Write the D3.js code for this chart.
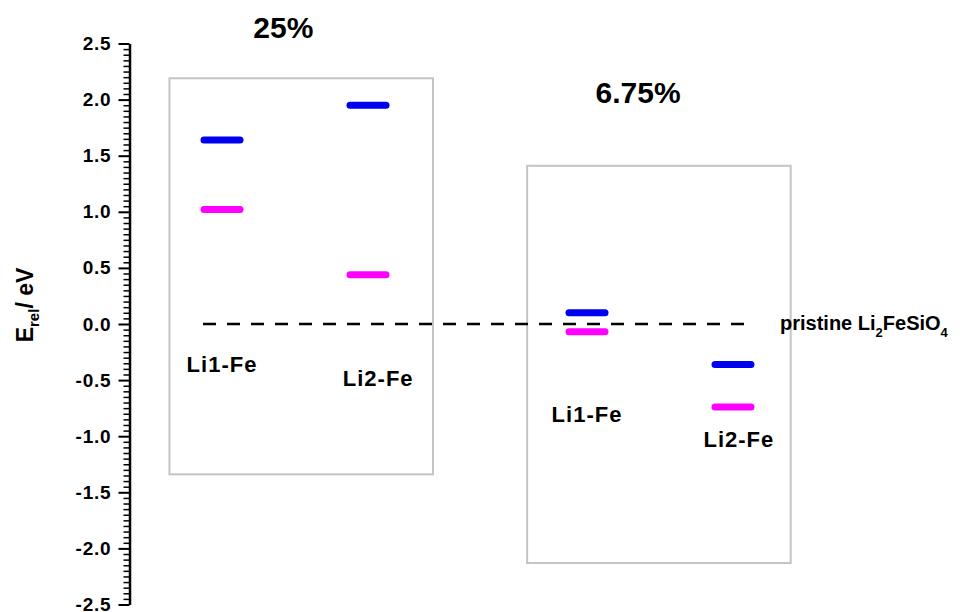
<!DOCTYPE html>
<html>
<head>
<meta charset="utf-8">
<script src="https://cdn.jsdelivr.net/npm/d3@7"></script>
<style>
  html, body { margin: 0; padding: 0; background: #fff; }
  svg { display: block; font-family: "Liberation Sans", Arial, sans-serif; }
</style>
</head>
<body>
<svg id="chart" width="960" height="612"></svg>
<script>
// Relative energies (eV) of Li-Fe antisite configurations at two concentrations
const groups = ["25%", "6.75%"];
const categories = ["Li1-Fe", "Li2-Fe", "Li1-Fe", "Li2-Fe"];
const categoryGroup = [0, 0, 1, 1];
const upperLevel = [1.64, 1.95, 0.10, -0.36];   // blue
const lowerLevel = [1.02, 0.44, -0.07, -0.74];  // magenta
const referenceLevel = 0.0;
const referenceLabel = ["pristine Li", "2", "FeSiO", "4"];
const yTicks = [-2.5, -2.0, -1.5, -1.0, -0.5, 0.0, 0.5, 1.0, 1.5, 2.0, 2.5];

// ---- layout ----
const svg = d3.select("#chart");
const slot = [1, 2, 3.5, 4.5];                 // horizontal slot of each category
const x = d3.scaleLinear().domain([0, 6]).range([76, 952]);
const y = d3.scaleLinear().domain([-2.5, 2.5]).range([604.5, 43.5]);
const axisX = 129.5;
const boxExtent = [                              // frame around each group (slot units / eV)
  { x0: 0.64, x1: 2.445, top: 2.19, bottom: -1.34 },
  { x0: 3.09, x1: 4.895, top: 1.41, bottom: -2.13 }
];
const titleAt = [{ s: 1.42, v: 2.545 }, { s: 3.85, v: 1.966 }];
const labelAt = [{ s: 1.0, v: -0.43 }, { s: 2.07, v: -0.555 }, { s: 3.5, v: -0.87 }, { s: 4.54, v: -1.095 }];
const barHalf = 18;

// group frames
svg.append("g").selectAll("rect").data(boxExtent).join("rect")
  .attr("x", d => x(d.x0)).attr("y", d => y(d.top))
  .attr("width", d => x(d.x1) - x(d.x0))
  .attr("height", d => y(d.bottom) - y(d.top))
  .attr("fill", "none").attr("stroke", "#c4c4c4").attr("stroke-width", 2);

// reference (pristine) level
svg.append("line")
  .attr("x1", x(slot[0]) - 19).attr("x2", x(slot[3]) + 21)
  .attr("y1", y(referenceLevel)).attr("y2", y(referenceLevel))
  .attr("stroke", "#000").attr("stroke-width", 2.5)
  .attr("stroke-dasharray", "13 11");

const refText = svg.append("text")
  .attr("x", 780).attr("y", y(referenceLevel) + 6)
  .attr("font-size", 20).attr("font-weight", "bold");
refText.append("tspan").text(referenceLabel[0]);
refText.append("tspan").attr("font-size", 13).attr("dy", 7).text(referenceLabel[1]);
refText.append("tspan").attr("dy", -7).text(referenceLabel[2]);
refText.append("tspan").attr("font-size", 13).attr("dy", 7).text(referenceLabel[3]);

// energy levels
function levels(values, color) {
  svg.append("g").selectAll("line").data(values).join("line")
    .attr("x1", (d, i) => x(slot[i]) - barHalf)
    .attr("x2", (d, i) => x(slot[i]) + barHalf)
    .attr("y1", d => y(d)).attr("y2", d => y(d))
    .attr("stroke", color).attr("stroke-width", 7)
    .attr("stroke-linecap", "round");
}
levels(upperLevel, "#0000f0");
levels(lowerLevel, "#ff00ff");

// category labels
svg.append("g").selectAll("text").data(categories).join("text")
  .attr("x", (d, i) => x(labelAt[i].s)).attr("y", (d, i) => y(labelAt[i].v))
  .attr("text-anchor", "middle").attr("font-size", 22).attr("font-weight", "bold")
  .attr("letter-spacing", 1)
  .text(d => d);

// group titles
svg.append("g").selectAll("text").data(groups).join("text")
  .attr("x", (d, i) => x(titleAt[i].s)).attr("y", (d, i) => y(titleAt[i].v))
  .attr("text-anchor", "middle").attr("font-size", 30).attr("font-weight", "bold")
  .text(d => d);

// y axis: major and minor ticks
const fmt = v => d3.format(".1f")(v).replace("\u2212", "-");
const minor = d3.range(-2.5, 2.5001, 0.05).filter(v => Math.abs(v * 2 - Math.round(v * 2)) > 1e-6);
svg.append("g").attr("transform", `translate(${axisX},0)`)
  .call(d3.axisLeft(y).tickValues(minor).tickSize(6).tickSizeOuter(0).tickFormat(""))
  .call(g => g.select(".domain").remove())
  .call(g => g.selectAll("line").attr("stroke-width", 1.5));
const yAxis = svg.append("g").attr("transform", `translate(${axisX},0)`)
  .call(d3.axisLeft(y).tickValues(yTicks).tickSize(11).tickSizeOuter(0).tickPadding(7).tickFormat(fmt));
yAxis.select(".domain").attr("stroke-width", 2.5);
yAxis.selectAll("line").attr("stroke-width", 2);
yAxis.selectAll("text").attr("font-size", 19).attr("font-weight", "bold")
  .attr("letter-spacing", 0.8)
  .attr("font-family", "Liberation Sans, Arial, sans-serif").attr("fill", "#000");

// y axis title
const yTitle = svg.append("text")
  .attr("transform", "translate(33,305) rotate(-90)")
  .attr("text-anchor", "middle").attr("font-size", 23).attr("font-weight", "bold");
yTitle.append("tspan").text("E");
yTitle.append("tspan").attr("font-size", 15).attr("dy", 6).text("rel");
yTitle.append("tspan").attr("dy", -6).text("/ eV");
</script>
</body>
</html>
